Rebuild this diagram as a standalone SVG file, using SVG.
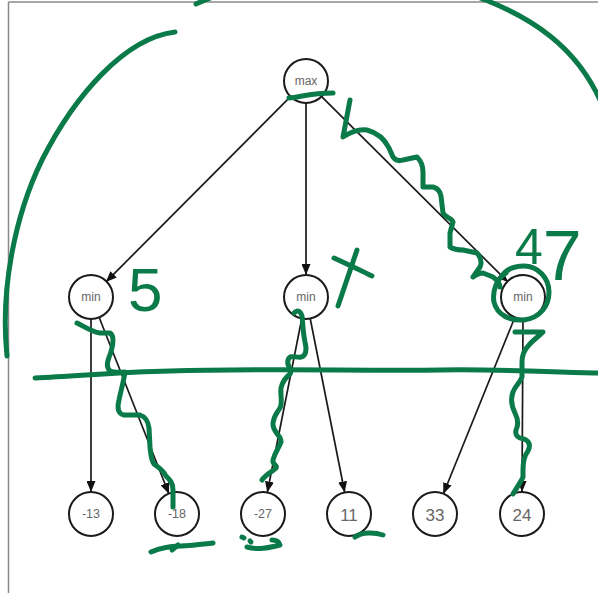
<svg xmlns="http://www.w3.org/2000/svg" width="598" height="593" viewBox="0 0 598 593">
  <defs>
    <marker id="arrow" viewBox="0 0 11 9" refX="11" refY="4.5" markerWidth="11" markerHeight="9" markerUnits="userSpaceOnUse" orient="auto">
      <path d="M0,0 L11,4.5 L0,9 Z" fill="#111"/>
    </marker>
    <style>
      .node circle { fill: #fff; stroke: #1a1a1a; stroke-width: 2; }
      .node text { font-family: "Liberation Sans", Arial, sans-serif; fill: #666; text-anchor: middle; dominant-baseline: central; }
      .small { font-size: 12px; }
      .mid { font-size: 12.5px; }
      .big { font-size: 17px; }
      .edges line { stroke: #1a1a1a; stroke-width: 1.7; marker-end: url(#arrow); }
      .ink { fill: none; stroke: #0a7a48; stroke-width: 5; stroke-linecap: round; stroke-linejoin: round; }
      .inktext { font-family: "Liberation Sans", Arial, sans-serif; fill: #0a7a48; }
      .frame { stroke: #8a8a8a; stroke-width: 1.5; }
    </style>
  </defs>

  <rect width="598" height="593" fill="#fff"/>

  <!-- page frame -->
  <line class="frame" x1="8.5" y1="2" x2="8.5" y2="593"/>
  <line class="frame" x1="8.5" y1="2" x2="598" y2="2"/>

  <!-- connectors -->
  <g id="edges" class="edges">
    <line x1="291.2" y1="95.9" x2="105.8" y2="282.1"/>
    <line x1="306" y1="103" x2="306" y2="275"/>
    <line x1="320.9" y1="95.8" x2="508.1" y2="282.2"/>
    <line x1="91" y1="319" x2="91" y2="492"/>
    <line x1="99" y1="317" x2="169" y2="494"/>
    <line x1="301.9" y1="318" x2="267.3" y2="492.5"/>
    <line x1="310.1" y1="318" x2="344.7" y2="492.5"/>
    <line x1="515" y1="317" x2="443.3" y2="494"/>
    <line x1="523" y1="319" x2="522" y2="492"/>
  </g>

  <!-- nodes -->
  <g id="n-max" class="node"><circle cx="306" cy="81" r="22"/><text class="small" x="306" y="81">max</text></g>
  <g id="n-min1" class="node"><circle cx="91" cy="297" r="22"/><text class="small" x="91" y="297">min</text></g>
  <g id="n-min2" class="node"><circle cx="306" cy="297" r="22"/><text class="small" x="306" y="297">min</text></g>
  <g id="n-min3" class="node"><circle cx="523" cy="297" r="22"/><text class="small" x="523" y="297">min</text></g>
  <g id="n-m13" class="node"><circle cx="91" cy="514" r="22"/><text class="mid" x="91" y="514">-13</text></g>
  <g id="n-m18" class="node"><circle cx="177" cy="514" r="22"/><text class="mid" x="177" y="514">-18</text></g>
  <g id="n-m27" class="node"><circle cx="263" cy="514" r="22"/><text class="mid" x="263" y="514">-27</text></g>
  <g id="n-11" class="node"><circle cx="349" cy="514" r="22"/><text class="big" x="349" y="515">11</text></g>
  <g id="n-33" class="node"><circle cx="435" cy="514" r="22"/><text class="big" x="435" y="515">33</text></g>
  <g id="n-24" class="node"><circle cx="522" cy="514" r="22"/><text class="big" x="522" y="515">24</text></g>

  <!-- hand-drawn green ink -->
  <g id="ink">
    <!-- outer arcs -->
    <path class="ink" d="M175,32 C125,38 75,95 42,160 C15,215 0,290 7,356"/>
    <path class="ink" d="M196,4 Q340,-60 488,1 C530,18 575,45 600,100"/>
    <!-- cut line -->
    <path class="ink" d="M35,378 C80,376 120,372 170,371 C260,368 360,371 440,370 C500,369 550,372 598,373"/>
    <!-- mark under max -->
    <path class="ink" d="M289,98 C300,97 312,93 333,93"/>
    <!-- squiggle along right branch -->
    <path class="ink" d="M350,100 L343,137 C352,131 360,129 367,130 C378,133 385,140 389,148 L393,157 C396,161 400,161 403,160 L417,157 C421,161 423,165 423,172 L423,187 L433,187 C437,188 440,190 441,196 L443,213 C446,218 452,218 453,222 L450,233 L450,247 C455,250 459,250 463,250 L477,253 C481,258 482,263 480,267 L473,277 C477,274 480,273 483,273 L493,277 C497,280 500,283 500,287"/>
    <!-- loop around right min -->
    <path class="ink" d="M506,273 C497,279 492,290 494,302 C497,315 510,321 524,320 C540,318 549,306 549,292 C549,278 538,266 524,266 C514,266 506,270 502,276"/>
    <!-- squiggle, left min to -18 -->
    <path class="ink" d="M77,323 C85,327 92,332 100,333 L110,333 C115,336 113,345 111,352 C108,360 105,366 110,371 C114,373 120,372 125,372 C124,380 121,390 119,400 C117,408 118,414 124,415 L140,415 C146,417 148,421 149,428 L150,447 C151,455 151,460 154,464 C158,467 163,470 166,476 C170,480 173,483 173,490 L173,507"/>
    <!-- squiggle, middle min to -27 -->
    <path class="ink" d="M294,313 C297,310 300,310 302,316 C303,325 303,333 305,342 C307,350 306,356 301,357 C296,358 290,354 288,360 C286,366 293,370 290,374 C286,377 283,380 281,388 C280,395 283,402 280,408 C277,413 274,415 273,423 C272,432 282,436 281,442 C279,448 275,452 273,460 C272,465 278,465 276,468 C272,472 266,474 262,480"/>
    <!-- squiggle, right min to 24 -->
    <path class="ink" d="M515,332 L543,332 C538,337 533,340 529,345 C524,350 522,355 522,362 L522,377 C520,383 515,386 513,392 C510,400 512,407 515,413 C518,419 519,424 516,430 C515,435 517,438 524,439 C529,441 531,445 528,451 C524,456 523,462 523,470 L523,477 C521,482 517,487 513,494"/>
    <!-- prune cross on middle min -->
    <path class="ink" d="M338,306 L357,250"/>
    <path class="ink" d="M334,258 C347,264 360,270 372,276"/>
    <!-- marks under the leaves -->
    <path class="ink" d="M151,552 C165,545 180,547 195,545 C202,544 208,544 213,543"/>
    <path class="ink" d="M178,545 L172,550"/>
    <path class="ink" d="M242,537 L244,538"/>
    <path class="ink" d="M250,541 L251,542"/>
    <path class="ink" d="M247,547 C258,550 268,548 280,545 C279,541 276,540 272,540"/>
    <path class="ink" d="M355,537 C362,532 374,532 383,535"/>
    <!-- handwritten values -->
    <text class="inktext" x="128" y="311" font-size="62">5</text>
    <text class="inktext" x="515" y="264" font-size="50">4<tspan font-size="70" dy="16">7</tspan></text>
  </g>
</svg>
